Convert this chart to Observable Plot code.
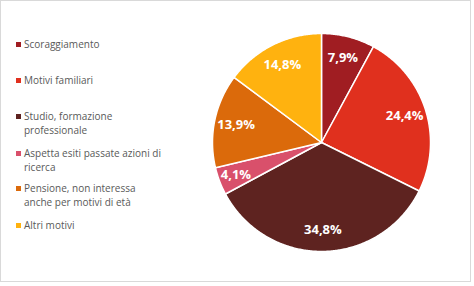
<!DOCTYPE html>
<html><head><meta charset="utf-8">
<script src="https://cdn.jsdelivr.net/npm/d3@7"></script>
<script src="https://cdn.jsdelivr.net/npm/@observablehq/plot@0.6"></script>
<style>
html,body{margin:0;padding:0;background:#fff;}
#wrap{position:relative;width:474px;height:286px;overflow:hidden;}
#frame{position:absolute;left:0;top:0;width:471px;height:282px;border:1px solid #d9d9d9;box-sizing:border-box;pointer-events:none;}
#legend{position:absolute;left:0;top:0;font-family:"Open Sans",sans-serif;font-size:10px;color:#595959;line-height:14px;}
.item{position:absolute;left:24px;width:150px;}
.sw{position:absolute;left:-8px;top:5px;width:5px;height:5px;}
#chart{position:absolute;left:0;top:0;}
</style></head>
<body><div id="wrap"><div id="chart"></div><div id="legend"></div><div id="frame"></div></div>
<script>
const categories = ["Scoraggiamento","Motivi familiari","Studio, formazione professionale","Aspetta esiti passate azioni di ricerca","Pensione, non interessa anche per motivi di età","Altri motivi"];
const values = [7.9, 24.4, 34.8, 4.1, 13.9, 14.8];
const labels = ["7,9%","24,4%","34,8%","4,1%","13,9%","14,8%"];
const colors = ["#A01D22","#E0301E","#5E2320","#D9506B","#DB6A0B","#FFB20F"];

const total = d3.sum(values);
const wedges = [];
const labelPts = [];
let acc = 0;
values.forEach((v, i) => {
  const a0 = acc / total * 2 * Math.PI;
  const a1 = (acc + v) / total * 2 * Math.PI;
  acc += v;
  wedges.push({cat: categories[i], x: 0, y: 0, k: 0});
  const n = Math.max(2, Math.ceil((a1 - a0) / 0.01));
  for (let j = 0; j <= n; j++) {
    const a = a0 + (a1 - a0) * j / n;
    wedges.push({cat: categories[i], x: Math.sin(a), y: Math.cos(a), k: j + 1});
  }
  const am = (a0 + a1) / 2;
  const rr = i === 3 ? 0.84 : 0.8;
  labelPts.push({label: labels[i], x: rr * Math.sin(am), y: rr * Math.cos(am)});
});

const plot = Plot.plot({
  width: 474, height: 286,
  marginLeft: 212, marginRight: 44, marginTop: 33, marginBottom: 35,
  x: {domain: [-1, 1], axis: null},
  y: {domain: [-1, 1], axis: null},
  color: {domain: categories, range: colors},
  style: {background: "transparent"},
  marks: [
    Plot.line(wedges, {x: "x", y: "y", z: "cat", fill: "cat", stroke: "white", strokeWidth: 1.5, curve: "linear-closed"}),
    Plot.text(labelPts, {x: "x", y: "y", text: "label", fill: "white", fontSize: 13, fontWeight: "bold", fontFamily: "Open Sans, sans-serif"})
  ]
});
document.getElementById("chart").appendChild(plot);

const tops = [37, 73, 109, 146, 181, 218];
const leg = document.getElementById("legend");
categories.forEach((c, i) => {
  const d = document.createElement("div");
  d.className = "item";
  d.style.top = tops[i] + "px";
  d.style.width = i === 3 ? "150px" : "125px";
  const s = document.createElement("div");
  s.className = "sw";
  s.style.background = colors[i];
  d.appendChild(s);
  d.appendChild(document.createTextNode(c));
  leg.appendChild(d);
});
</script></body></html>
